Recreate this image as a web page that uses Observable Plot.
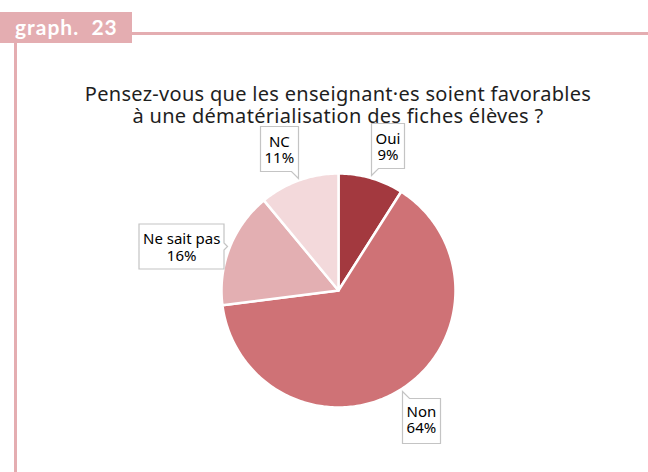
<!DOCTYPE html>
<html>
<head>
<meta charset="utf-8">
<script src="https://cdn.jsdelivr.net/npm/d3@7"></script>
<script src="https://cdn.jsdelivr.net/npm/@observablehq/plot@0.6"></script>
<style>
  html, body { margin: 0; padding: 0; background: #fff; }
  #wrap { position: relative; width: 648px; height: 472px; overflow: hidden; font-family: "Noto Sans", sans-serif; }
  #tag { position: absolute; left: 0; top: 12px; width: 132px; height: 31px; background: #e4adb1; color: #fff;
         font-family: Lato, sans-serif; font-weight: bold; font-size: 21px; line-height: 30px; padding-left: 15px; box-sizing: border-box; letter-spacing: 1px; }
  #hline { position: absolute; left: 132px; top: 32px; width: 516px; height: 2.5px; background: #e4adb1; }
  #vline { position: absolute; left: 14px; top: 43px; width: 2.5px; height: 429px; background: #e4adb1; }
  #title { position: absolute; left: 0; width: 676px; top: 83px; text-align: center; font-size: 20px; line-height: 22px; color: #1e1e1e; letter-spacing: 0.3px; }
  #chart { position: absolute; left: 0; top: 0; }
</style>
</head>
<body>
<div id="wrap">
  <div id="chart"></div>
  <div id="tag">graph.&nbsp; 23</div>
  <div id="hline"></div>
  <div id="vline"></div>
  <div id="title">Pensez-vous que les enseignant·es soient favorables<br>à une dématérialisation des fiches élèves ?</div>
</div>
<script>
// Data
const categories = ["Oui", "Non", "Ne sait pas", "NC"];
const shares = [9, 64, 16, 11];
const colors = ["#a3393f", "#cf7276", "#e3afb2", "#f3d9db"];

// Layout (pixels)
const W = 648, H = 472, cx = 338, cy = 290, R = 117;

const pie = d3.pie().sort(null).value(d => d.value)(categories.map((c, i) => ({label: c, value: shares[i]})));

// Slice polygons in unit coordinates (angle 0 at top, clockwise)
const slicePts = [];
for (const s of pie) {
  const label = s.data.label;
  slicePts.push({label, x: 0, y: 0});
  const n = Math.max(2, Math.ceil((s.endAngle - s.startAngle) / (Math.PI / 180)));
  for (let k = 0; k <= n; k++) {
    const a = s.startAngle + (s.endAngle - s.startAngle) * k / n;
    slicePts.push({label, x: Math.sin(a), y: Math.cos(a)});
  }
  slicePts.push({label, x: 0, y: 0});
}

// Label anchor points at slice mid-angles
const labelPts = pie.map(s => {
  const a = (s.startAngle + s.endAngle) / 2;
  return {label: s.data.label, text: `${s.data.label}\n${s.data.value}%`, x: 1.02 * Math.sin(a), y: 1.02 * Math.cos(a)};
});
const anchors = {"Oui": "bottom-left", "Non": "top-left", "Ne sait pas": "right", "NC": "bottom-right"};

const plot = Plot.plot({
  width: W, height: H,
  margin: 0,
  x: {domain: [-cx / R, (W - cx) / R], axis: null},
  y: {domain: [-(H - cy) / R, cy / R], axis: null},
  color: {domain: categories, range: colors},
  style: {fontFamily: "'Noto Sans', sans-serif", background: "transparent"},
  marks: [
    Plot.line(slicePts, {x: "x", y: "y", z: "label", fill: "label", stroke: "white", strokeWidth: 2.5, strokeLinejoin: "round"}),
    ...labelPts.map(d => Plot.tip([d], {
      x: "x", y: "y", title: "text",
      anchor: anchors[d.label],
      fontSize: 15, lineHeight: 1.1, textPadding: 4, pointerSize: 7,
      textAnchor: "middle", pathFilter: "none",
      fill: "white", stroke: "#c4c4c4", strokeWidth: 1.2, color: "#1e1e1e"
    }))
  ]
});
document.getElementById("chart").appendChild(plot);
</script>
</body>
</html>
